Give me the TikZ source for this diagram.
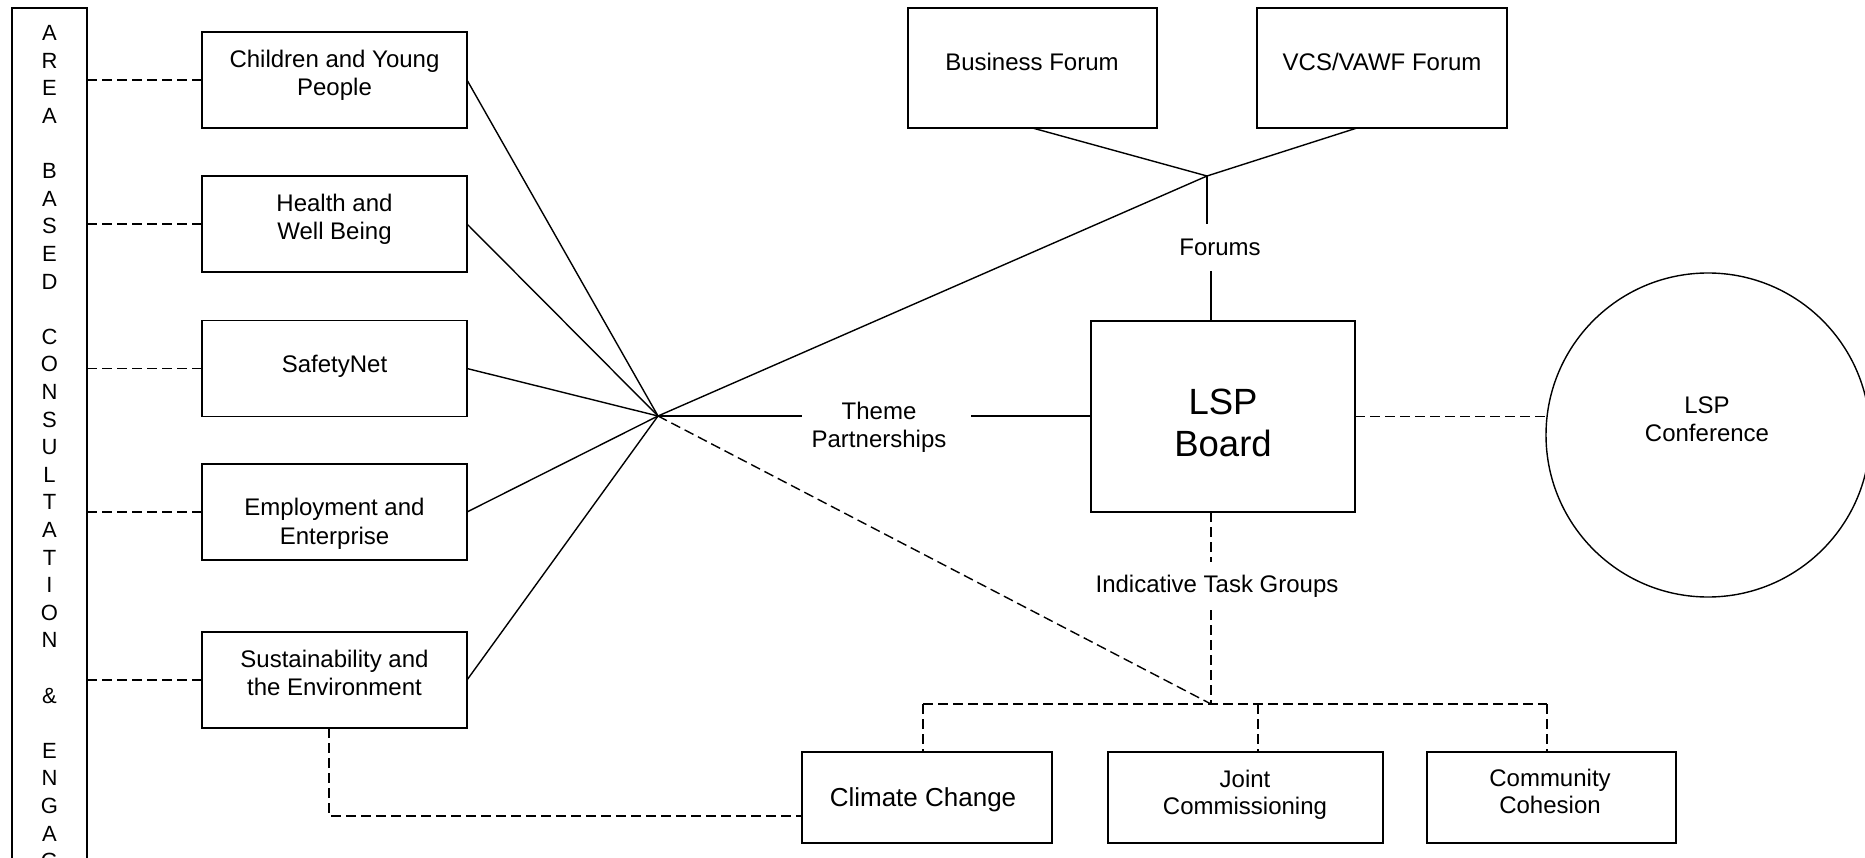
\documentclass[tikz,border=0pt]{standalone}
\usepackage{fontspec}
\setmainfont{Liberation Sans}
\usetikzlibrary{calc}
\begin{document}
\begin{tikzpicture}[x=1pt,y=-1pt,
  box/.style={draw, line width=1.4pt, rectangle, inner sep=0pt, outer sep=0pt},
  sidebox/.style={box, minimum width=265pt, minimum height=96pt},
  tgbox/.style={box, minimum height=91pt},
  txt/.style={inner sep=0pt, outer sep=0pt, align=center, font=\fontsize{24}{28.4}\selectfont},
  conn/.style={line width=1.4pt},
  dline/.style={line width=1.4pt, dash pattern=on 10pt off 5pt},
]
\useasboundingbox (0,0) rectangle (1865,858);
\clip (0,0) rectangle (1865,858);

% left vertical bar
\node[box, minimum width=75pt, minimum height=1000pt, anchor=north] (bar) at (49.5,8) {};
\foreach \l [count=\i from 0] in {A,R,E,A,{},B,A,S,E,D,{},C,O,N,S,U,L,T,A,T,I,O,N,{},\&,{},E,N,G,A,G}
  \node[txt, font=\fontsize{22}{26}\selectfont, anchor=base] (v\i) at (49.5,40.7+27.6*\i) {\l};

% theme boxes
\node[sidebox] (cyp) at (334.5,80) {};
\node[sidebox] (hwb) at (334.5,224) {};
\node[sidebox] (sn)  at (334.5,368.5) {};
\node[sidebox] (ee)  at (334.5,512) {};
\node[sidebox] (se)  at (334.5,680) {};
\node[txt, anchor=north] (cypt) at (334.5,50) {Children and Young\\People};
\node[txt, anchor=north] (hwbt) at (334.5,194) {Health and\\Well Being};
\node[txt, anchor=north] (snt)  at (334.5,355) {SafetyNet};
\node[txt, anchor=north] (eet)  at (334.5,498.5) {Employment and\\Enterprise};
\node[txt, anchor=north] (set)  at (334.5,650) {Sustainability and\\the Environment};

% forums
\node[box, minimum width=249pt, minimum height=120pt] (bf)  at (1032.5,68) {};
\node[box, minimum width=250pt, minimum height=120pt] (vcs) at (1382,68) {};
\node[txt, anchor=north] (bft)  at (1032,53) {Business Forum};
\node[txt, anchor=north] (vcst) at (1382,53) {VCS/VAWF Forum};
\node[txt, inner ysep=15pt] (forums) at (1220,247.5) {Forums};

% board
\node[box, minimum width=264pt, minimum height=191pt] (board) at (1223,416.5) {};
\node[txt, anchor=north, font=\fontsize{36.5}{42}\selectfont] (boardt) at (1223,389) {LSP\\Board};

% conference
\node[draw, circle, line width=1.4pt, inner sep=0pt, outer sep=0pt, minimum size=324pt] (conf) at (1708,435) {};
\node[txt, anchor=north, font=\fontsize{24}{27.8}\selectfont] (conft) at (1707,397) {LSP\\Conference};

% theme partnerships label
\node[txt, anchor=north, inner xsep=10pt] (theme) at (879,402) {Theme\\Partnerships};

% task groups
\node[txt, anchor=north, inner ysep=13pt] (itg) at (1217,562) {Indicative Task Groups};
\node[tgbox, minimum width=250pt] (cc)  at (927,797.5) {};
\node[tgbox, minimum width=275pt] (jc)  at (1245.5,797.5) {};
\node[tgbox, minimum width=249pt] (coh) at (1551.5,797.5) {};
\node[txt, anchor=north, font=\fontsize{26}{30}\selectfont] (cct) at (923,788) {Climate Change};
\node[txt, anchor=north, font=\fontsize{24}{27}\selectfont] (jct) at (1245,770) {Joint\\Commissioning};
\node[txt, anchor=north, font=\fontsize{24}{27}\selectfont] (coht) at (1550,769) {Community\\Cohesion};

% junction points
\coordinate (hub) at (658,416);
\coordinate (fj) at (1207,176);
\coordinate (fx) at (1211,0);
\coordinate (tj) at (1211,704);
\coordinate (t1) at (923,704);
\coordinate (t2) at (1258,704);
\coordinate (t3) at (1547,704);
\coordinate (sc) at (329,816);

% connectors
\foreach \n in {cyp,hwb,sn,ee,se} {
  \draw[conn] (\n.east) -- (hub);
  \draw[dline] (bar.east |- \n.west) -- (\n.west);
}
\draw[conn] (hub) -- (fj);
\draw[conn] (bf.south) -- (fj);
\draw[conn] ($(vcs.south)+(-25,0)$) -- (fj);
\draw[conn] (fj) -- (fj |- forums.north);
\draw[conn] (forums.south -| fx) -- (board.north -| fx);
\draw[conn] (hub) -- (hub -| theme.west);
\draw[conn] ($(theme.east |- hub)+(15,0)$) -- (board.west |- hub);
\draw[dline] (board.east) -- (board.east -| conf.west);
\draw[dline] (board.south -| fx) -- (itg.north -| fx);
\draw[dline] (itg.south -| fx) -- (tj);
\draw[dline] (hub) -- (tj);
\draw[dline] (t1) -- (t3);
\draw[dline] (t1) -- (t1 |- cc.north);
\draw[dline] (t2) -- (t2 |- jc.north);
\draw[dline] (t3) -- (t3 |- coh.north);
\draw[dline] (se.south -| sc) -- (sc) -- (cc.west |- sc);
\end{tikzpicture}
\end{document}
